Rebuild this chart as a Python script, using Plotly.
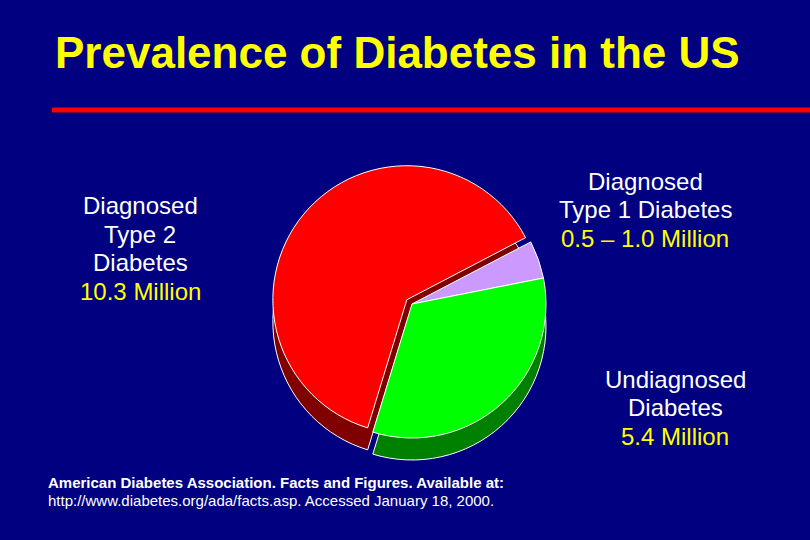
import plotly.graph_objects as go

# Data
categories = ["Diagnosed Type 2 Diabetes", "Diagnosed Type 1 Diabetes", "Undiagnosed Diabetes"]
values_millions = [10.3, 0.75, 5.4]   # Type 1 given as range 0.5 – 1.0 million
value_labels = ["10.3 Million", "0.5 – 1.0 Million", "5.4 Million"]
face_colors = ["#ff0000", "#cc99ff", "#00ff00"]
side_colors = ["#800000", "#6e5a8c", "#008000"]
pulls = [0.05, 0, 0]

title_text = "Prevalence of Diabetes in the US"
footnote_lines = ["American Diabetes Association. Facts and Figures. Available at:",
                  "http://www.diabetes.org/ada/facts.asp. Accessed January 18, 2000."]

W, H = 810, 540
BG = "#000080"

cx, cy, r = 412, 304, 134
half = r * (1 + max(pulls))
depth = 22

def dom(cx, cy):
    return dict(x=[(cx - half) / W, (cx + half) / W],
                y=[1 - (cy + half) / H, 1 - (cy - half) / H])

fig = go.Figure()
# side (depth) layer
fig.add_trace(go.Pie(labels=categories, values=values_millions, sort=False,
                     direction="clockwise", rotation=197, pull=pulls,
                     marker=dict(colors=side_colors, line=dict(color="white", width=1)),
                     textinfo="none", hoverinfo="skip", showlegend=False,
                     domain=dom(cx, cy + depth)))
# top face
fig.add_trace(go.Pie(labels=categories, values=values_millions, sort=False,
                     direction="clockwise", rotation=197, pull=pulls,
                     marker=dict(colors=face_colors, line=dict(color="white", width=1)),
                     textinfo="none", showlegend=False,
                     domain=dom(cx, cy)))

font = "Liberation Sans, Arial, sans-serif"
ann = []
def lines(x, ys, texts, colors):
    for y, t, c in zip(ys, texts, colors):
        ann.append(dict(x=x / W, y=1 - y / H, xref="paper", yref="paper", text=t,
                        showarrow=False, xanchor="center", yanchor="middle",
                        font=dict(family=font, size=24, color=c)))

lines(140, [205, 234, 262, 291], ["Diagnosed", "Type 2", "Diabetes", value_labels[0]],
      ["white", "white", "white", "#ffff00"])
lines(645, [181, 210, 238], ["Diagnosed", "Type 1 Diabetes", value_labels[1]],
      ["white", "white", "#ffff00"])
lines(675, [379, 407, 436], ["Undiagnosed", "Diabetes", value_labels[2]],
      ["white", "white", "#ffff00"])

ann.append(dict(x=53 / W, y=1 - 52 / H, xref="paper", yref="paper", text="<b>" + title_text + "</b>",
                showarrow=False, xanchor="left", yanchor="middle",
                font=dict(family=font, size=44, color="#ffff00")))
ann.append(dict(x=46 / W, y=1 - 482 / H, xref="paper", yref="paper", text="<b>" + footnote_lines[0] + "</b>",
                showarrow=False, xanchor="left", yanchor="middle",
                font=dict(family=font, size=15, color="white")))
ann.append(dict(x=46 / W, y=1 - 500 / H, xref="paper", yref="paper", text=footnote_lines[1],
                showarrow=False, xanchor="left", yanchor="middle",
                font=dict(family=font, size=15, color="white")))

fig.update_layout(
    width=W, height=H, paper_bgcolor=BG, plot_bgcolor=BG,
    margin=dict(l=0, r=0, t=0, b=0),
    annotations=ann,
    shapes=[dict(type="line", xref="paper", yref="paper", x0=52 / W, x1=1, y0=1 - 110 / H, y1=1 - 110 / H,
                 line=dict(color="#ff0000", width=5))],
)

fig.write_html("out.html", config={"displayModeBar": False},
               post_script="document.body.style.margin='0';document.body.style.background='#000080';")
